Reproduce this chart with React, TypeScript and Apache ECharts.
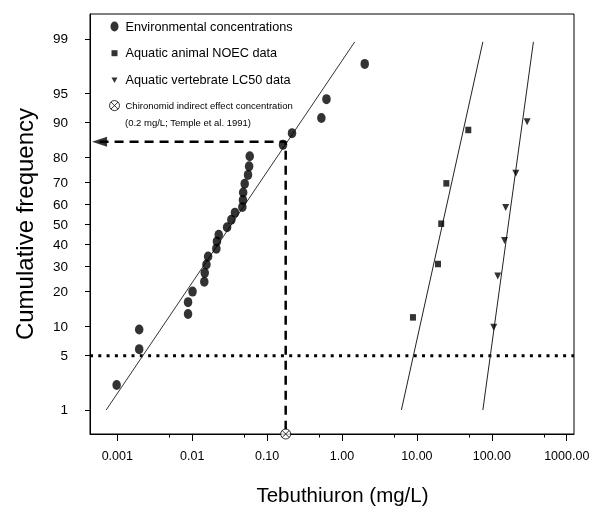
import { useEffect, useRef } from "react";
import * as echarts from "echarts";

// ---- axis definitions ----
const xTickValues = [0.001, 0.01, 0.1, 1, 10, 100, 1000];
const xTickLabels = ["0.001", "0.01", "0.10", "1.00", "10.00", "100.00", "1000.00"];
const xMinorTickValues = [0.005, 0.05, 0.5, 5, 50, 500];
const xRange = [0.000432, 1250];
const yTickPercents = [1, 5, 10, 20, 30, 40, 50, 60, 70, 80, 90, 95, 99];
const yRangePct = [0.43, 99.585];

// ---- data (concentration mg/L, cumulative frequency %) ----
const envConc = [0.00098, 0.00196, 0.00196, 0.0088, 0.0088, 0.0101, 0.0145, 0.0147, 0.0155, 0.0163,
  0.021, 0.0214, 0.0226, 0.0292, 0.0333, 0.0372, 0.0467, 0.0476, 0.0479, 0.0502, 0.0556, 0.0575, 0.0586,
  0.163, 0.215, 0.53, 0.62, 2.01];
const envPct = [2.2, 5.9, 9.4, 13.1, 16.5, 20.0, 23.6, 27.2, 30.8, 34.4,
  38.1, 41.6, 44.9, 48.6, 52.4, 55.9, 58.7, 62.0, 65.6, 69.5, 73.3, 76.7, 80.4,
  84.1, 87.4, 90.9, 94.2, 97.8];

const noecConc = [8.85, 19.1, 21.1, 24.7, 48.5];
const noecPct = [12.2, 31.0, 50.4, 69.7, 88.2];

const lc50Conc = [106, 120, 148, 153, 209, 296];
const lc50Pct = [9.9, 25.9, 42.1, 58.4, 74.0, 90.1];

// fitted lines (end points)
const envFitConc = [0.00071, 1.48];
const envFitPct = [1, 98.9];
const noecFitConc = [6.2, 75.9];
const noecFitPct = [1, 98.9];
const lc50FitConc = [75.9, 359];
const lc50FitPct = [1, 98.9];

// reference lines
const protectionPct = 5;
const chironomidConc = 0.177;
const chironomidPct = 85;
const arrowConc = 0.00058;

const SANS = "'Liberation Sans', Arial, sans-serif";

function probit(p: number): number {
  const a = [-3.969683028665376e1, 2.209460984245205e2, -2.759285104469687e2, 1.38357751867269e2, -3.066479806614716e1, 2.506628277459239];
  const b = [-5.447609879822406e1, 1.615858368580409e2, -1.556989798598866e2, 6.680131188771972e1, -1.328068155288572e1];
  const c = [-7.784894002430293e-3, -3.223964580411365e-1, -2.400758277161838, -2.549732539343734, 4.374664141464968, 2.938163982698783];
  const d = [7.784695709041462e-3, 3.224671290700398e-1, 2.445134137142996, 3.754408661907416];
  const plow = 0.02425;
  const phigh = 1 - plow;
  if (p < plow) {
    const q = Math.sqrt(-2 * Math.log(p));
    return (((((c[0] * q + c[1]) * q + c[2]) * q + c[3]) * q + c[4]) * q + c[5]) / ((((d[0] * q + d[1]) * q + d[2]) * q + d[3]) * q + 1);
  }
  if (p <= phigh) {
    const q = p - 0.5;
    const r = q * q;
    return ((((((a[0] * r + a[1]) * r + a[2]) * r + a[3]) * r + a[4]) * r + a[5]) * q) / (((((b[0] * r + b[1]) * r + b[2]) * r + b[3]) * r + b[4]) * r + 1);
  }
  const q = Math.sqrt(-2 * Math.log(1 - p));
  return -(((((c[0] * q + c[1]) * q + c[2]) * q + c[3]) * q + c[4]) * q + c[5]) / ((((d[0] * q + d[1]) * q + d[2]) * q + d[3]) * q + 1);
}
const z = (pct: number) => probit(pct / 100);
const pairs = (xs: number[], ps: number[]) => xs.map((x, i) => [x, z(ps[i])]);

const ICON_ENV = "path://M0,0 M24,24 M4,12 A8,10 0 1 1 20,12 A8,10 0 1 1 4,12 Z";
const ICON_SQ = "path://M0,0 M24,24 M6,6 H18 V18 H6 Z";
const ICON_TRI = "path://M0,0 M24,24 M6,7 H18 L12,18 Z";
const ICON_CX = "path://M0,0 M24,24 M2,12 A10,10 0 1 1 22,12 A10,10 0 1 1 2,12 Z M4.93,4.93 L19.07,19.07 M19.07,4.93 L4.93,19.07";
const SYM_ENV = "path://M0,5 A4,5 0 1 1 8,5 A4,5 0 1 1 0,5 Z";
const SYM_TRI = "path://M0,0 H10 L5,9 Z";
const SYM_CX = "path://M0,10 A10,10 0 1 1 20,10 A10,10 0 1 1 0,10 Z M2.93,2.93 L17.07,17.07 M17.07,2.93 L2.93,17.07";

const NAME_ENV = "Environmental concentrations";
const NAME_NOEC = "Aquatic animal NOEC data";
const NAME_LC50 = "Aquatic vertebrate LC50 data";
const NAME_CHIRO = "Chironomid indirect effect concentration";

export default function App() {
  const ref = useRef<HTMLDivElement>(null);
  useEffect(() => {
    if (!ref.current) return;
    const chart = echarts.init(ref.current, null, { renderer: "svg" });
    const zMin = z(yRangePct[0]);
    const zMax = z(yRangePct[1]);
    const yTickZ = yTickPercents.map((p) => z(p));
    const xLabel = (v: number) => {
      let best = 0;
      let bd = Infinity;
      xTickValues.forEach((t, i) => {
        const dd = Math.abs(Math.log10(t) - Math.log10(v));
        if (dd < bd) { bd = dd; best = i; }
      });
      return xTickLabels[best];
    };
    const yLabel = (v: number) => {
      let best = 0;
      let bd = Infinity;
      yTickZ.forEach((t, i) => {
        const dd = Math.abs(t - v);
        if (dd < bd) { bd = dd; best = i; }
      });
      return String(yTickPercents[best]);
    };
    const black = "#000";
    chart.setOption({
      animation: false,
      grid: {
        left: 90, right: 15, top: 14, bottom: 76,
        outerBoundsMode: "none",
        containLabel: false,
        show: true, borderColor: black, borderWidth: 1, backgroundColor: "transparent",
      },
      legend: {
        orient: "vertical",
        left: 108,
        top: 19,
        padding: 0,
        itemGap: 11.7,
        itemWidth: 12,
        itemHeight: 12,
        selectedMode: false,
        textStyle: { fontFamily: SANS, fontSize: 12.7, lineHeight: 15, color: black },
        data: [
          { name: NAME_ENV, icon: ICON_ENV, itemStyle: { color: black } },
          { name: NAME_NOEC, icon: ICON_SQ, itemStyle: { color: black } },
          { name: NAME_LC50, icon: ICON_TRI, itemStyle: { color: black } },
          {
            name: NAME_CHIRO,
            icon: ICON_CX,
            itemStyle: { color: "#fff", borderColor: black, borderWidth: 1 },
            textStyle: { fontFamily: SANS, fontSize: 9.5, lineHeight: 12, color: black },
          },
        ],
      },
      graphic: [
        {
          type: "text",
          left: 125,
          top: 117,
          style: { text: "(0.2 mg/L; Temple et al. 1991)", fontFamily: SANS, fontSize: 9.5, fill: black },
        },
      ],
      xAxis: [
        {
          type: "log",
          logBase: 10,
          min: xRange[0],
          max: xRange[1],
          name: "Tebuthiuron (mg/L)",
          nameLocation: "middle",
          nameGap: 49,
          nameTextStyle: { fontFamily: SANS, fontSize: 20.5, lineHeight: 22, color: black, padding: [0, 0, 0, 21] },
          axisLine: { show: true, onZero: false, lineStyle: { color: black, width: 1 } },
          axisTick: { show: true, inside: false, length: 7, customValues: xTickValues, lineStyle: { color: black } },
          axisLabel: { customValues: xTickValues, formatter: xLabel, margin: 15, fontFamily: SANS, fontSize: 12.5, color: black },
          splitLine: { show: false },
          minorTick: { show: false },
        },
        {
          type: "log",
          logBase: 10,
          min: xRange[0],
          max: xRange[1],
          gridIndex: 0,
          position: "bottom",
          axisLine: { show: false, onZero: false },
          axisTick: { show: true, inside: false, length: 3.5, customValues: xMinorTickValues, lineStyle: { color: black } },
          axisLabel: { show: false },
          splitLine: { show: false },
        },
      ],
      yAxis: {
        type: "value",
        min: zMin,
        max: zMax,
        name: "Cumulative frequency",
        nameLocation: "middle",
        nameGap: 54,
        nameTextStyle: { fontFamily: SANS, fontSize: 24, lineHeight: 24, color: black },
        axisLine: { show: true, onZero: false, lineStyle: { color: black, width: 1 } },
        axisTick: { show: true, inside: false, length: 5, customValues: yTickZ, lineStyle: { color: black } },
        axisLabel: { customValues: yTickZ, formatter: yLabel, margin: 22, fontFamily: SANS, fontSize: 13.5, color: black },
        splitLine: { show: false },
      },
      series: [
        {
          name: "5% line",
          type: "line",
          data: [[xRange[0], z(protectionPct)], [xRange[1], z(protectionPct)]],
          showSymbol: false,
          lineStyle: { color: black, width: 3, type: [3, 5.3] },
          silent: true,
          z: 1,
        },
        {
          name: "env fit",
          type: "line",
          data: pairs(envFitConc, envFitPct),
          showSymbol: false,
          lineStyle: { color: "#333", width: 1 },
          silent: true,
          z: 1,
        },
        {
          name: "noec fit",
          type: "line",
          data: pairs(noecFitConc, noecFitPct),
          showSymbol: false,
          lineStyle: { color: "#222", width: 1 },
          silent: true,
          z: 1,
        },
        {
          name: "lc50 fit",
          type: "line",
          data: pairs(lc50FitConc, lc50FitPct),
          showSymbol: false,
          lineStyle: { color: "#222", width: 1 },
          silent: true,
          z: 1,
        },
        {
          name: "chironomid lines",
          type: "line",
          data: [[arrowConc, z(chironomidPct)], [chironomidConc, z(chironomidPct)], [chironomidConc, zMin]],
          showSymbol: false,
          lineStyle: { color: black, width: 2.5, type: [9, 6] },
          silent: true,
          z: 2,
        },
        {
          name: "arrow",
          type: "scatter",
          data: [[arrowConc, z(chironomidPct)]],
          symbol: "triangle",
          symbolRotate: 90,
          symbolSize: [10, 15],
          itemStyle: { color: black },
          silent: true,
          z: 3,
        },
        {
          name: NAME_ENV,
          type: "scatter",
          data: pairs(envConc, envPct),
          symbol: SYM_ENV,
          symbolSize: [8.5, 10],
          itemStyle: { color: black },
          z: 4,
        },
        {
          name: NAME_NOEC,
          type: "scatter",
          data: pairs(noecConc, noecPct),
          symbol: "rect",
          symbolSize: [6, 6.5],
          itemStyle: { color: black },
          z: 4,
        },
        {
          name: NAME_LC50,
          type: "scatter",
          data: pairs(lc50Conc, lc50Pct),
          symbol: SYM_TRI,
          symbolSize: [7, 7],
          itemStyle: { color: black },
          z: 4,
        },
        {
          name: NAME_CHIRO,
          type: "scatter",
          data: [[chironomidConc, zMin]],
          symbol: SYM_CX,
          symbolSize: 10,
          clip: false,
          itemStyle: { color: "#fff", borderColor: black, borderWidth: 1 },
          z: 5,
        },
      ],
    });
    return () => chart.dispose();
  }, []);
  return <div ref={ref} style={{ position: "fixed", left: 0, top: 0, width: 589, height: 510 }} />;
}
